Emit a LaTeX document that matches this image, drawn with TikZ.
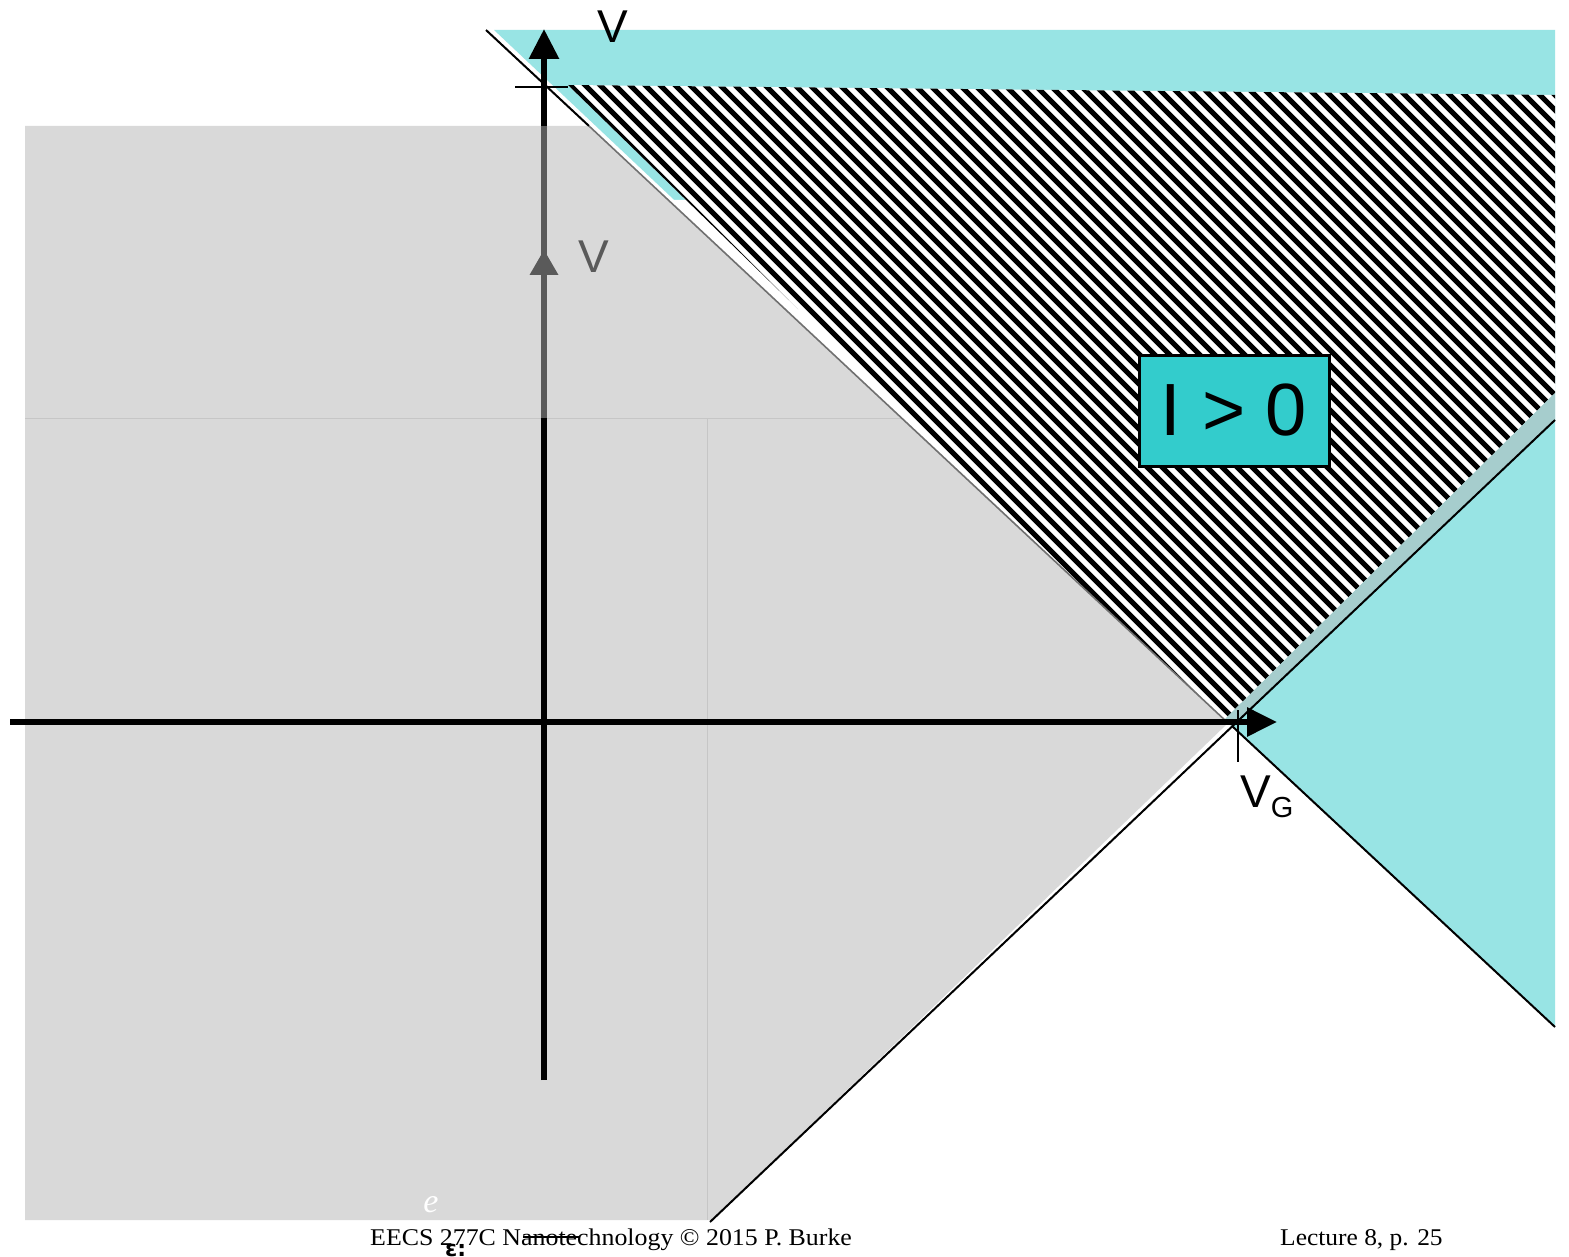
\documentclass[tikz,border=0pt]{standalone}
\usepackage{fontspec}
\setmainfont{Liberation Serif}
\newfontfamily\arialf{Liberation Sans}
\newfontfamily\dejavuf{DejaVu Sans}
\usetikzlibrary{arrows.meta}
\definecolor{cyanbg}{HTML}{98E4E4}
\definecolor{graybg}{HTML}{D9D9D9}
\definecolor{boxfill}{HTML}{33CCCC}
\definecolor{darkg}{HTML}{5A5A5A}
\definecolor{bandc}{HTML}{A6CDCD}
\definecolor{faint}{HTML}{C6C6C6}
\definecolor{edgeg}{HTML}{707070}
\tikzset{
  axisline/.style={line width=6pt},
  thinline/.style={line width=2pt},
  stripe/.style={line width=5.2pt},
  biglab/.style={font=\arialf\fontsize{46}{50}\selectfont, inner sep=0pt, anchor=base},
  foot/.style={font=\fontsize{24}{28}\selectfont, inner sep=0pt, anchor=base west},
}
\begin{document}
\begin{tikzpicture}[x=1pt,y=-1pt]
\useasboundingbox (0,0) rectangle (1569,1257);
\fill[white] (0,0) rectangle (1569,1257);
% key points
\coordinate (P1) at (486,30);
\coordinate (P2) at (1555,1027);
\coordinate (A) at (1232,726);
\coordinate (B) at (710,1222);
\coordinate (C) at (1555,420);
\coordinate (G1) at (589,126);
\coordinate (GA) at (1228,723);
% cyan region
\fill[cyanbg] (494,30) -- (1555,30) -- (P2) -- (A) -- cycle;
% white gap next to the gray edge
\fill[white] (660,200) -- (690,200) -- (1222,722) -- (GA) -- cycle;
% striped region
\begin{scope}
  \clip (568,85) -- (1555,95) -- (1555,393) -- (1222,722) -- cycle;
  \fill[white] (0,0) rectangle (1569,1257);
  \foreach \k in {455,470,...,1490} \draw[stripe] (\k,0) -- ++(1100,1100);
\end{scope}
% band between stripes and cyan
\fill[bandc] (1222,722) -- (1555,393) -- (C) -- (A) -- cycle;
% gray region
\fill[graybg] (25,126) -- (G1) -- (GA) -- (712,1220) -- (25,1220) -- cycle;
\draw[faint, line width=1pt] (25,418) -- (902,418);
\draw[faint, line width=1pt] (707,418) -- (707,1220);
% diagonal lines
\draw[thinline] (P1) -- (G1);
\draw[edgeg, line width=1.6pt] (G1) -- (GA);
\draw[thinline] (A) -- (P2);
\draw[thinline] (B) -- (C);
% axes
\coordinate (xs) at (10,722);
\coordinate (xe) at (1277,722);
\coordinate (ys) at (544,1080);
\coordinate (ye) at (544,29);
\draw[axisline, -{Triangle[length=30pt,width=28pt]}] (xs) -- (xe);
\draw[axisline, -{Triangle[length=30pt,width=29pt]}] (ys) -- (ye);
\draw[axisline, darkg] (544,126) -- (544,418);
\fill[darkg] (529.5,275) -- (544,250) -- (558.5,275) -- cycle;
% ticks
\draw[line width=2.2pt] (515,87) -- (568,87);
\draw[line width=1.6pt] (1238,710) -- (1238,762);
% labels
\node[biglab] (vtop) at (612.5,43) {V};
\node[biglab, text=darkg] (vmid) at (593.5,273) {V};
\node[biglab, anchor=base west] (vg) at (1240,807) {V\raisebox{-10pt}{\fontsize{29}{31}\selectfont G}};
\node[draw, line width=3pt, fill=boxfill, minimum width=190pt, minimum height=111pt, inner sep=0pt,
      font=\arialf\fontsize{74}{80}\selectfont] (ibox) at (1234,410.5) {I > 0};
% footer
\node[foot] (f1) at (370,1245) {\scalebox{1.078}[1]{EECS 277C Nanotechnology © 2015 P. Burke}};
\node[foot] (f2) at (1280,1245) {\scalebox{1.06}[1]{Lecture 8, p. 25}};
\node[font=\fontsize{34}{36}\selectfont\itshape, text=white, inner sep=0pt, anchor=base] (ee) at (431,1212) {e};
\node[font=\dejavuf\bfseries\fontsize{22}{24}\selectfont, inner sep=0pt, anchor=base west] (eps) at (445,1256) {ɛ:};
\draw[line width=2pt] (523,1237) -- (580,1237);
\end{tikzpicture}
\end{document}
